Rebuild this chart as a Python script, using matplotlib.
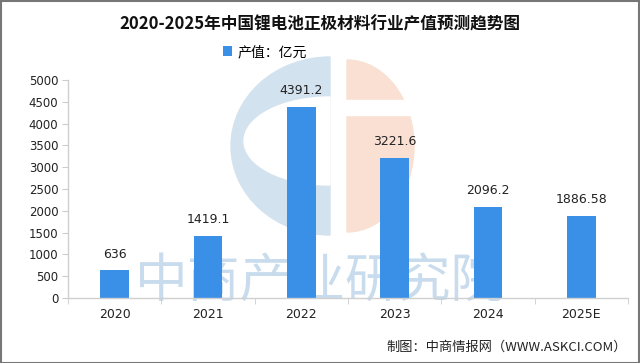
import matplotlib
matplotlib.use("Agg")
import matplotlib.pyplot as plt
from matplotlib.patches import Rectangle, Wedge
from matplotlib.transforms import Affine2D, blended_transform_factory
import numpy as np

plt.rcParams['font.family'] = ['Noto Sans CJK SC', 'DejaVu Sans']

# data
years = ["2020", "2021", "2022", "2023", "2024", "2025E"]
values = [636, 1419.1, 4391.2, 3221.6, 2096.2, 1886.58]
value_labels = ["636", "1419.1", "4391.2", "3221.6", "2096.2", "1886.58"]
yticks = [0, 500, 1000, 1500, 2000, 2500, 3000, 3500, 4000, 4500, 5000]

W, H = 640, 363
fig = plt.figure(figsize=(6.4, 3.63), dpi=100)
fig.patch.set_facecolor("white")

# ---------------------------------------------------------------------------
# watermark logo (behind everything), drawn in image pixel coords
# ---------------------------------------------------------------------------
lx0, lx1, ly0, ly1 = 220, 420, 50, 240
logo = fig.add_axes([lx0 / W, 1 - ly1 / H, (lx1 - lx0) / W, (ly1 - ly0) / H], zorder=0)
logo.set_xlim(lx0, lx1)
logo.set_ylim(ly1, ly0)
logo.axis("off")
blue_wm = "#d3e2ef"
orange_wm = "#f9e0d3"
# blue "C": left half of outer ellipse minus left half of inner ellipse
logo.add_patch(Wedge((0, 0), 1, 90, 270, color=blue_wm,
                     transform=Affine2D().scale(99, 89).translate(330, 146) + logo.transData))
logo.add_patch(Wedge((0, 0), 1, 90, 270, color="white",
                     transform=Affine2D().scale(86, 44).translate(330, 141) + logo.transData))
# orange: right half ellipse with white gap
logo.add_patch(Wedge((0, 0), 1, -90, 90, color=orange_wm,
                     transform=Affine2D().scale(67, 86).translate(347, 146) + logo.transData))
logo.add_patch(Rectangle((345, 100), 75, 15, color="white"))

# ---------------------------------------------------------------------------
# main axes
# ---------------------------------------------------------------------------
ax = fig.add_axes([68 / W, 1 - 298 / H, 560 / W, 218 / H], zorder=1)
ax.patch.set_alpha(0)

x = np.arange(len(years))

# watermark text behind bars
ax.text(2.2, 0.07, "中商产业研究院", fontsize=38, color="#c9dced",
        ha="center", va="center", zorder=0, clip_on=False,
        transform=blended_transform_factory(ax.transData, ax.transAxes))

bars = ax.bar(x, values, width=0.31, color="#3a8fe6", zorder=2, label="产值：亿元")

for xi, v, lab in zip(x, values, value_labels):
    ax.annotate(lab, (xi, v), xytext=(0, 7), textcoords="offset points",
                ha="center", va="bottom", fontsize=9, color="#222222",
                family="DejaVu Sans")

ax.set_xlim(-0.5, len(years) - 0.5)
ax.set_ylim(0, 5000)
ax.set_yticks(yticks)
ax.set_yticklabels([str(t) for t in yticks], family="DejaVu Sans", fontsize=8.5, color="#222222")
ax.set_xticks(x)
ax.set_xticklabels(years, family="DejaVu Sans", fontsize=9, color="#222222")
ax.set_xticks(np.arange(-0.5, len(years)), minor=True)
ax.tick_params(axis="x", which="major", length=0, pad=7)
ax.tick_params(axis="x", which="minor", length=4, color="#cccccc")
ax.tick_params(axis="y", length=4, color="#cccccc", pad=3)

for s in ["top", "right"]:
    ax.spines[s].set_visible(False)
for s in ["left", "bottom"]:
    ax.spines[s].set_color("#d0d0d0")
    ax.spines[s].set_linewidth(1)

# legend
fig.legend(handles=[bars], loc="center", bbox_to_anchor=(265 / W, 1 - 52 / H),
           frameon=False, fontsize=10, handlelength=0.7, handleheight=0.7,
           handletextpad=0.4)

# title
fig.text(0.5, 1 - 24 / H, "2020-2025年中国锂电池正极材料行业产值预测趋势图",
         ha="center", va="center", fontsize=12, fontweight="bold", color="#111111")

# footer
fig.text(627 / W, 1 - 347 / H, "制图：中商情报网（WWW.ASKCI.COM）",
         ha="right", va="center", fontsize=9.5, color="#222222")

# outer border
fig.add_artist(Rectangle((0.001, 0.001), 0.997, 0.996, transform=fig.transFigure,
                         fill=False, edgecolor="#777777", linewidth=1.5))

fig.savefig("out.png", dpi=100)
